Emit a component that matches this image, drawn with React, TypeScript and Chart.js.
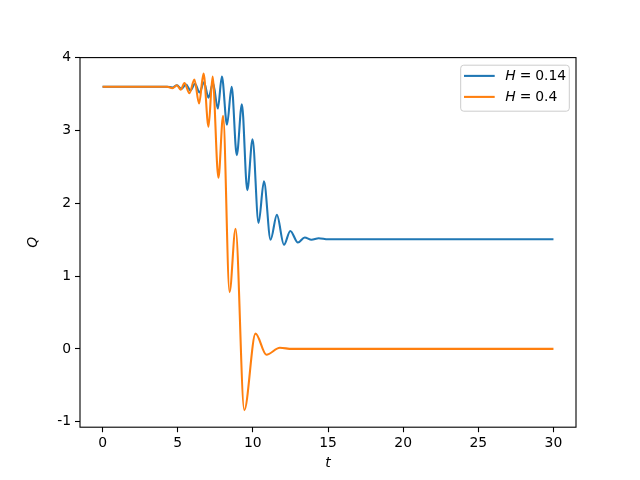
import React, { useEffect, useRef } from "react";
import { Chart, registerables } from "chart.js";

Chart.register(...registerables);

// H = 0.14 series (extrema)
const tBlue = [0, 4.3, 4.65, 4.95, 5.25, 5.55, 5.85, 6.15, 6.45, 6.75, 7.05, 7.35, 7.67, 7.94, 8.28, 8.59, 8.93, 9.27, 9.63, 9.98, 10.38, 10.74, 11.18, 11.6, 12.07, 12.49, 13.0, 13.45, 13.9, 14.38, 15.0, 30];
const qBlue = [3.6, 3.6, 3.59, 3.62, 3.57, 3.63, 3.55, 3.64, 3.52, 3.66, 3.45, 3.65, 3.3, 3.74, 3.08, 3.6, 2.66, 3.36, 2.18, 2.88, 1.73, 2.3, 1.5, 1.84, 1.43, 1.62, 1.46, 1.53, 1.5, 1.52, 1.505, 1.505];

// H = 0.4 series
const tOrange = [0, 4.3, 4.65, 4.95, 5.2, 5.45, 5.78, 6.11, 6.42, 6.72, 7.05, 7.32, 7.71, 8.02, 8.45, 8.85, 9.43, 10.18, 10.9, 11.8, 12.6, 30];
const qOrange = [3.6, 3.6, 3.58, 3.62, 3.56, 3.65, 3.51, 3.7, 3.37, 3.78, 3.05, 3.74, 2.35, 3.2, 0.78, 1.65, -0.84, 0.21, -0.08, 0.015, 0.0, 0.0];

const seriesLabels = ["0.14", "0.4"];
const seriesColors = ["#1f77b4", "#ff7f0e"];

const FONT = "'DejaVu Sans', sans-serif";
const FS = 13.9;

const framePlugin = {
  id: "frameAndLegend",
  afterDraw(chart: any) {
    const { ctx, chartArea } = chart;
    const { left, top, right, bottom } = chartArea;
    ctx.save();
    ctx.strokeStyle = "#000";
    ctx.lineWidth = 1.1;
    ctx.strokeRect(left, top, right - left, bottom - top);

    // legend
    const bw = 108.6;
    const bh = 46;
    const bx = right - 6.7 - bw;
    const by = top + 7.6;
    const r = 3;
    ctx.beginPath();
    ctx.moveTo(bx + r, by);
    ctx.lineTo(bx + bw - r, by);
    ctx.quadraticCurveTo(bx + bw, by, bx + bw, by + r);
    ctx.lineTo(bx + bw, by + bh - r);
    ctx.quadraticCurveTo(bx + bw, by + bh, bx + bw - r, by + bh);
    ctx.lineTo(bx + r, by + bh);
    ctx.quadraticCurveTo(bx, by + bh, bx, by + bh - r);
    ctx.lineTo(bx, by + r);
    ctx.quadraticCurveTo(bx, by, bx + r, by);
    ctx.closePath();
    ctx.fillStyle = "rgba(255,255,255,0.8)";
    ctx.fill();
    ctx.strokeStyle = "#cccccc";
    ctx.lineWidth = 1;
    ctx.stroke();

    seriesLabels.forEach((lab, i) => {
      const y = by + 10.7 + i * 21;
      ctx.strokeStyle = seriesColors[i];
      ctx.lineWidth = 2.08;
      ctx.beginPath();
      ctx.moveTo(bx + 3.3, y);
      ctx.lineTo(bx + 34, y);
      ctx.stroke();
      ctx.fillStyle = "#000";
      ctx.textBaseline = "middle";
      ctx.textAlign = "left";
      let x = bx + 44.5;
      ctx.font = `italic ${FS}px ${FONT}`;
      ctx.fillText("H", x, y);
      x += ctx.measureText("H").width + 4;
      ctx.font = `${FS}px ${FONT}`;
      ctx.fillText("=", x, y);
      x += ctx.measureText("=").width + 4;
      ctx.fillText(lab, x, y);
    });
    ctx.restore();
  },
};

export default function App() {
  const ref = useRef<HTMLCanvasElement>(null);
  useEffect(() => {
    if (!ref.current) return;
    const chart = new Chart(ref.current, {
      type: "line",
      data: {
        datasets: [
          {
            label: "H = " + seriesLabels[0],
            data: tBlue.map((t, i) => ({ x: t, y: qBlue[i] })),
            borderColor: seriesColors[0],
            borderWidth: 2.08,
            pointRadius: 0,
            cubicInterpolationMode: "monotone",
            fill: false,
            order: 1,
          },
          {
            label: "H = " + seriesLabels[1],
            data: tOrange.map((t, i) => ({ x: t, y: qOrange[i] })),
            borderColor: seriesColors[1],
            borderWidth: 2.08,
            pointRadius: 0,
            cubicInterpolationMode: "monotone",
            fill: false,
            order: 0,
          },
        ],
      },
      options: {
        responsive: false,
        animation: false,
        devicePixelRatio: 1,
        layout: { padding: { left: 0, top: 57.6, right: 64, bottom: 0 } },
        plugins: { legend: { display: false }, tooltip: { enabled: false } },
        scales: {
          x: {
            type: "linear",
            min: -1.5,
            max: 31.5,
            border: { display: false },
            grid: { drawOnChartArea: false, drawTicks: true, tickLength: 5, tickColor: "#000", tickWidth: 1.1 },
            ticks: { stepSize: 5, includeBounds: false, color: "#000", padding: 3, font: { family: FONT, size: FS }, maxRotation: 0 },
            title: { display: true, text: "t", color: "#000", font: { family: FONT, size: FS, style: "italic" }, padding: { top: 0, bottom: 8 } },
            afterFit(scale: any) { scale.height = 52.8; },
          },
          y: {
            type: "linear",
            min: -1.075,
            max: 4.0,
            border: { display: false },
            grid: { drawOnChartArea: false, drawTicks: true, tickLength: 5, tickColor: "#000", tickWidth: 1.1 },
            ticks: { stepSize: 1, includeBounds: false, color: "#000", padding: 4, font: { family: FONT, size: FS } },
            title: { display: true, text: "Q", color: "#000", font: { family: FONT, size: FS, style: "italic" }, padding: { top: 25, bottom: 0 } },
            afterFit(scale: any) { scale.width = 80; },
          },
        },
      },
      plugins: [framePlugin],
    } as any);
    return () => chart.destroy();
  }, []);
  return (
    <div style={{ position: "absolute", left: 0, top: 0, width: 640, height: 480, background: "#fff" }}>
      <canvas ref={ref} width={640} height={480} />
    </div>
  );
}
